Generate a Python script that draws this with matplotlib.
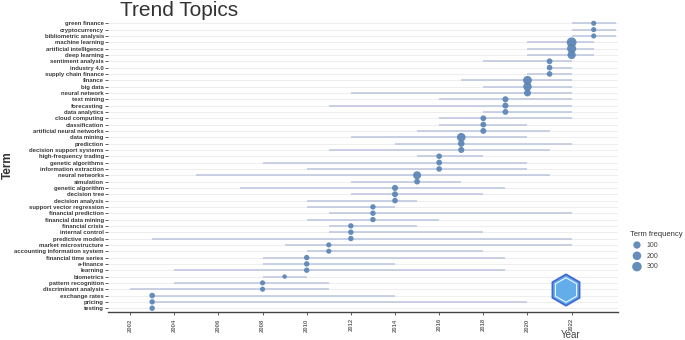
import matplotlib

matplotlib.use("Agg")
import matplotlib.pyplot as plt
import numpy as np
from matplotlib.patches import RegularPolygon

plt.rcParams["font.family"] = ["Liberation Sans", "DejaVu Sans"]

# Trend topics, top row first: first quartile year, median year, third quartile year, frequency
terms = [
    "green finance", "cryptocurrency", "bibliometric analysis", "machine learning",
    "artificial intelligence", "deep learning", "sentiment analysis", "industry 4.0",
    "supply chain finance", "finance", "big data", "neural network", "text mining",
    "forecasting", "data analytics", "cloud computing", "classification",
    "artificial neural networks", "data mining", "prediction", "decision support systems",
    "high-frequency trading", "genetic algorithms", "information extraction",
    "neural networks", "simulation", "genetic algorithm", "decision tree",
    "decision analysis", "support vector regression", "financial prediction",
    "financial data mining", "financial crisis", "internal control", "predictive models",
    "market microstructure", "accounting information system", "financial time series",
    "e-finance", "learning", "biometrics", "pattern recognition", "discriminant analysis",
    "exchange rates", "pricing", "testing",
]
year_q1 = [
    2022, 2022, 2022, 2020, 2020, 2020, 2018, 2021, 2020, 2017, 2018, 2012, 2016,
    2011, 2018, 2016, 2016, 2015, 2012, 2014, 2011, 2015, 2008, 2010, 2005, 2012,
    2007, 2012, 2010, 2010, 2011, 2010, 2011, 2011, 2003, 2009, 2010, 2008, 2008,
    2004, 2008, 2004, 2002, 2003, 2003, 2003,
]
year_med = [
    2023, 2023, 2023, 2022, 2022, 2022, 2021, 2021, 2021, 2020, 2020, 2020, 2019,
    2019, 2019, 2018, 2018, 2018, 2017, 2017, 2017, 2016, 2016, 2016, 2015, 2015,
    2014, 2014, 2014, 2013, 2013, 2013, 2012, 2012, 2012, 2011, 2011, 2010, 2010,
    2010, 2009, 2008, 2008, 2003, 2003, 2003,
]
year_q3 = [
    2024, 2024, 2024, 2023, 2023, 2023, 2022, 2022, 2022, 2022, 2022, 2022, 2022,
    2022, 2022, 2022, 2020, 2021, 2020, 2022, 2021, 2018, 2020, 2020, 2021, 2017,
    2019, 2018, 2015, 2014, 2022, 2016, 2015, 2018, 2022, 2022, 2018, 2019, 2014,
    2019, 2010, 2011, 2011, 2014, 2020, 2003,
]
freq = [
    15, 15, 15, 330, 260, 170, 30, 25, 25, 220, 190, 80, 40,
    40, 30, 30, 30, 35, 210, 60, 40, 25, 30, 25, 150, 30,
    40, 35, 25, 20, 20, 20, 20, 20, 20, 15, 15, 20, 20,
    20, 10, 15, 15, 25, 20, 20,
]
legend_values = [100, 200, 300]
year_ticks = list(range(2002, 2023, 2))

F_MIN, F_MAX = 10, 330
D_MIN, D_MAX = 4.5, 9.8  # marker diameter in pixels


def marker_area(f):
    # area-style scale like ggplot's scale_size
    f = np.asarray(f, dtype=float)
    d = D_MIN + (D_MAX - D_MIN) * np.sqrt(np.clip((f - F_MIN) / (F_MAX - F_MIN), 0, 1))
    return (d * 72 / 100) ** 2


fig = plt.figure(figsize=(6.85, 3.4), dpi=100)
ax = fig.add_axes([108 / 685, 28 / 340, 510 / 685, 292.5 / 340])

ypos = np.arange(len(terms))[::-1] + 1
ax.hlines(ypos, year_q1, year_q3, color="#BCC5DE", lw=1.1, zorder=2)
ax.scatter(year_med, ypos, s=marker_area(freq), color="#5A85B5", alpha=0.92,
           edgecolors="none", zorder=3)

ax.set_xlim(2001.0, 2024.1)
ax.set_ylim(0.4, len(terms) + 0.6)
ax.set_yticks(ypos)
ax.set_yticklabels(terms, fontsize=4.3, fontweight="bold", color="#3a3a3a")
ax.set_xticks(year_ticks)
ax.set_xticklabels([str(y) for y in year_ticks], rotation=90, fontsize=4.2,
                   fontweight="bold", color="#666666")
ax.tick_params(axis="y", length=2, width=0.6, colors="#444444", pad=1)
ax.tick_params(axis="y", labelcolor="#3a3a3a")
ax.tick_params(axis="x", length=2.5, width=0.6, colors="#444444", pad=2)
ax.tick_params(axis="x", labelcolor="#666666")

ax.yaxis.grid(True, color="#EEEEEE", lw=0.8)
ax.set_axisbelow(True)
for side in ("top", "right", "left"):
    ax.spines[side].set_visible(False)
ax.spines["bottom"].set_color("#444444")
ax.spines["bottom"].set_linewidth(1.0)

fig.text(120 / 685, 1 - 10 / 340, "Trend Topics", fontsize=15, color="#333333",
         va="center", ha="left")
fig.text(8 / 685, 1 - 165 / 340, "Term", rotation=90, fontsize=8.5,
         fontweight="bold", color="#333333", va="center", ha="center")
fig.text(561 / 685, 1 - 335 / 340, "Year", fontsize=7, color="#444444",
         va="center", ha="left")

handles = [ax.scatter([], [], s=marker_area(v), color="#5A85B5", alpha=0.92,
                      edgecolors="none") for v in legend_values]
leg = ax.legend(handles, [str(v) for v in legend_values], title="Term frequency",
                loc="upper left", bbox_to_anchor=(630 / 685, 1 - 231 / 340),
                bbox_transform=fig.transFigure, frameon=False, fontsize=5,
                title_fontsize=5.5, alignment="left", labelspacing=0.55,
                handletextpad=0.4, borderaxespad=0, borderpad=0)
for t in leg.get_texts():
    t.set_color("#444444")
leg.get_title().set_color("#333333")

# small hexagon logo in the lower right corner
iax = fig.add_axes([(566 - 17) / 685, (340 - 290 - 17) / 340, 34 / 685, 34 / 340])
iax.set_xlim(-1, 1)
iax.set_ylim(-1, 1)
iax.set_aspect("equal")
iax.axis("off")
iax.add_patch(RegularPolygon((0, 0), 6, radius=0.92, facecolor="#63AEEA",
                             edgecolor="#4169D6", lw=1.3))
iax.add_patch(RegularPolygon((0, 0), 6, radius=0.72, facecolor="none",
                             edgecolor="white", lw=0.7))

fig.savefig("out.png", dpi=100)
